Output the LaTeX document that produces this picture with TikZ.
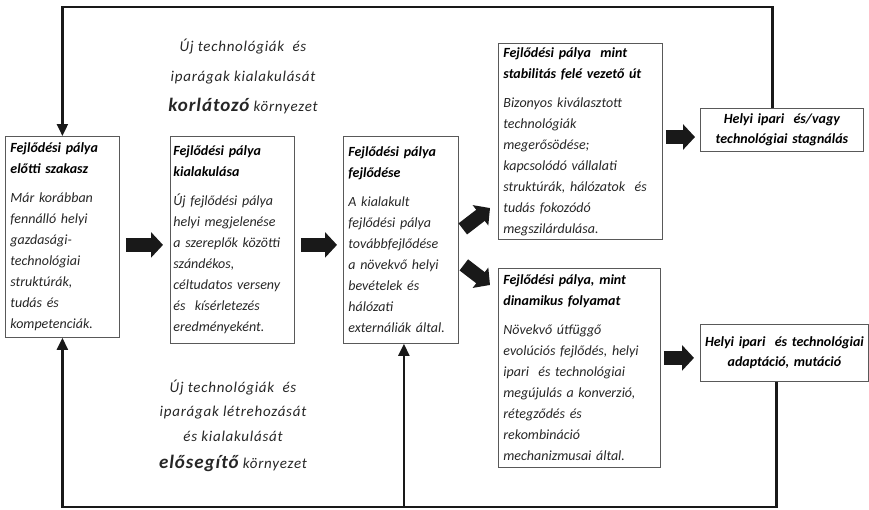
\documentclass[tikz,border=0pt]{standalone}
\usepackage{fontspec}
\setmainfont{Carlito}
\newfontfamily\envfont[LetterSpace=5]{Carlito}
\usepackage{xcolor}
\usepackage{tikz}
\usetikzlibrary{arrows.meta}

\newcommand{\stagehead}[1]{\textbf{\color{black}#1}}

\begin{document}
\begin{tikzpicture}[x=1pt,y=-1pt,
    stage/.style={draw=black!65, line width=0.8pt, anchor=north west, align=left,
      inner xsep=5pt, inner ysep=4pt, text=black!85,
      font=\itshape\fontsize{14}{21}\selectfont},
    outcome/.style={draw=black!65, line width=0.8pt, anchor=north west, align=center,
      inner xsep=2pt, inner ysep=3pt, font=\bfseries\itshape\fontsize{14}{20}\selectfont},
    flow/.style={line width=2.2pt, draw=black!90, -{Triangle[length=12pt,width=11pt]}},
    bigarrow/.style={line width=14pt, draw=black!90, -{Triangle[length=12pt,width=25pt]}}]
    \useasboundingbox (0,0) rectangle (869,509);

    % Stages
    \node[stage, text width=104pt, minimum height=201pt] (b1) at (5,136)
      {\stagehead{Fejlődési pálya}\\ \stagehead{előtti szakasz}\\[8pt]
       Már korábban\\ fennálló helyi\\ gazdasági-\\ technológiai\\ struktúrák,\\ tudás és\\ kompetenciák.};
    \node[stage, inner xsep=3pt, text width=118pt, minimum height=207pt] (b2) at (170,136)
      {\stagehead{Fejlődési pálya}\\ \stagehead{kialakulása}\\[8pt]
       Új fejlődési pálya\\ helyi megjelenése\\ a szereplők közötti\\ szándékos,\\ céltudatos verseny\\ és \ kísérletezés\\ eredményeként.};
    \node[stage, text width=105pt, minimum height=207pt] (b3) at (343,136)
      {\stagehead{Fejlődési pálya}\\ \stagehead{fejlődése}\\[8pt]
       A kialakult\\ fejlődési pálya\\ továbbfejlődése\\ a növekvő helyi\\ bevételek és\\ hálózati\\ externáliák által.};
    \node[stage, text width=154pt, minimum height=191pt] (b4) at (498,43)
      {\stagehead{Fejlődési pálya \ mint}\\ \stagehead{stabilitás felé vezető út}\\[8pt]
       Bizonyos kiválasztott\\ technológiák\\ megerősödése;\\ kapcsolódó vállalati\\ struktúrák, hálózatok \ és\\ tudás fokozódó\\ megszilárdulása.};
    \node[stage, text width=152pt, minimum height=199pt] (b5) at (498,268)
      {\stagehead{Fejlődési pálya, mint}\\ \stagehead{dinamikus folyamat}\\[8pt]
       Növekvő útfüggő\\ evolúciós fejlődés, helyi\\ ipari \ és technológiai\\ megújulás a konverzió,\\ rétegződés és\\ rekombináció\\ mechanizmusai által.};

    % Outcomes
    \node[outcome, text width=159pt, minimum height=43pt] (stag) at (700,108)
      {Helyi ipari \ és/vagy\\ technológiai stagnálás};
    \node[outcome, text width=164pt, minimum height=57pt] (adapt) at (700,324)
      {Helyi ipari \ és technológiai\\ adaptáció, mutáció};

    % Environments
    \node[align=center, text=black!85, font=\envfont\itshape\fontsize{15}{30}\selectfont] (limit) at (243,76)
      {Új technológiák \ és\\ iparágak kialakulását\\
       {\fontsize{19}{30}\selectfont\bfseries korlátozó} környezet};
    \node[align=center, text=black!85, font=\envfont\itshape\fontsize{15}{24.5}\selectfont] (enable) at (233,426)
      {Új technológiák \ és\\ iparágak létrehozását\\ és kialakulását\\[3pt]
       {\fontsize{19}{24.5}\selectfont\bfseries elősegítő} környezet};

    % Block arrows
    \draw[bigarrow, shorten <=6pt, shorten >=7pt] ([yshift=-8pt]b1.east) -- ([yshift=-8pt]b1.east -| b2.west);
    \draw[bigarrow, shorten <=6pt, shorten >=6pt] ([yshift=-5pt]b2.east) -- ([yshift=-5pt]b2.east -| b3.west);
    \draw[bigarrow] ([shift={(4pt,11pt)}]b3.east) -- ([shift={(-8pt,32pt)}]b4.south west);
    \draw[bigarrow] ([shift={(5pt,-25pt)}]b3.east) -- ([shift={(-8pt,-17pt)}]b5.north west);
    \draw[bigarrow, shorten <=3pt, shorten >=5pt] ([yshift=4.5pt]b4.east) -- ([yshift=4.5pt]b4.east -| stag.west);
    \draw[bigarrow, shorten <=3pt, shorten >=6pt] ([yshift=10pt]b5.east) -- ([yshift=10pt]b5.east -| adapt.west);

    % Feedback loops
    \coordinate (top) at (0,7);
    \coordinate (bot) at (0,507);
    \coordinate (b3in) at ([xshift=3pt]b3.south);
    \draw[flow] ([xshift=-9.5pt]stag.north) |- (top -| b1.north) -- (b1.north);
    \draw[flow] ([xshift=-8pt]adapt.south) |- (bot -| b1.south) -- (b1.south);
    \draw[flow] (b3in |- bot) -- (b3in);
\end{tikzpicture}
\end{document}
